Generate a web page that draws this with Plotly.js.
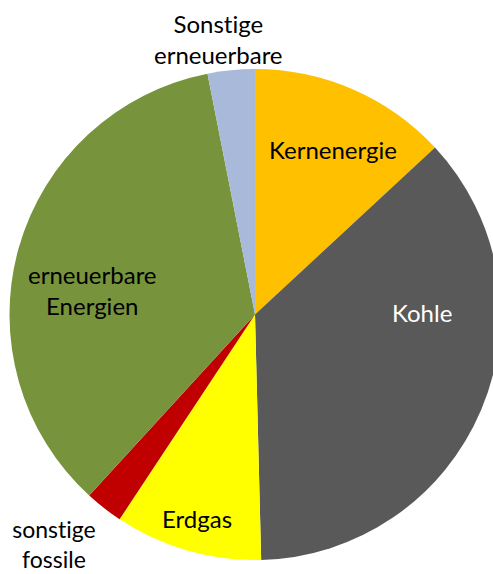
<!DOCTYPE html>
<html>
<head>
<meta charset="utf-8">
<script src="https://cdn.plot.ly/plotly-3.0.1.min.js"></script>
<style>
html, body { margin: 0; padding: 0; overflow: hidden; background: #fff; width: 493px; height: 574px; }
#chart { width: 510px; height: 574px; }
#chart text { font-variant-ligatures: none; font-feature-settings: "liga" 0, "clig" 0; }
</style>
</head>
<body>
<div id="chart"></div>
<script>
const categories = ["Kernenergie", "Kohle", "Erdgas", "sonstige fossile", "erneuerbare Energien", "Sonstige erneuerbare"];
const labelTexts = ["Kernenergie", "Kohle", "Erdgas", "sonstige<br>fossile", "erneuerbare<br>Energien", "Sonstige<br>erneuerbare"];
const shares = [13.1, 36.5, 9.7, 2.5, 35.1, 3.1];
const colors = ["#FFC000", "#595959", "#FFFF00", "#C00000", "#77933C", "#A9B9D9"];
const labelColors = ["#000000", "#FFFFFF", "#000000", "#000000", "#000000", "#000000"];

const FONT = "Lato, Open Sans, sans-serif";

const trace = {
  type: "pie",
  labels: categories,
  values: shares,
  sort: false,
  direction: "clockwise",
  rotation: 0,
  marker: { colors: colors, line: { width: 0 } },
  textinfo: "none",
  hoverinfo: "label+percent",
  showlegend: false
};

// label anchor positions in figure pixels, converted to paper coords of the plot area
const W = 510, H = 574, MT = 69, MB = 14;
const PH = H - MT - MB;
const labelPos = [[333, 149], [422, 312], [197, 518], [54, 544], [92, 290], [218, 39]];
const labelSizes = [24, 24, 24, 23, 24, 24];
const annotations = categories.map((c, i) => ({
  xref: "paper", yref: "paper",
  x: labelPos[i][0] / W, y: 1 - (labelPos[i][1] - MT) / PH,
  xanchor: "center", yanchor: "middle",
  text: labelTexts[i],
  showarrow: false,
  font: { family: FONT, size: labelSizes[i], color: labelColors[i] }
}));

const layout = {
  width: W, height: H,
  margin: { l: 0, r: 0, t: MT, b: MB, pad: 0 },
  paper_bgcolor: "#ffffff",
  annotations: annotations
};

Plotly.newPlot("chart", [trace], layout, { displayModeBar: false, staticPlot: true });
</script>
</body>
</html>
